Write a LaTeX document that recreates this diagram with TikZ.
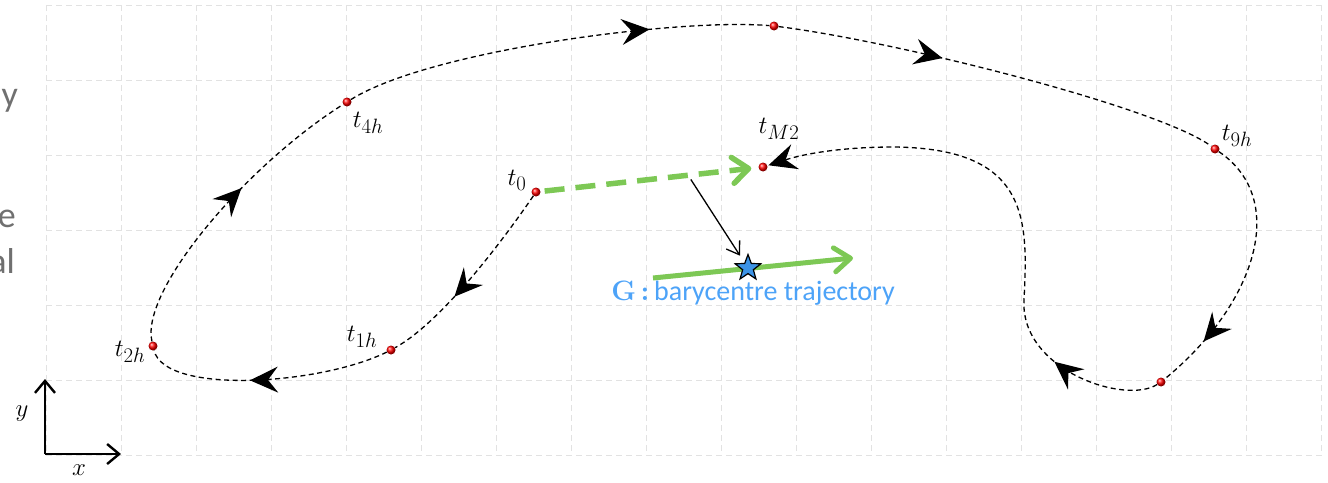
\documentclass[tikz,border=0pt]{standalone}
\usepackage{fontspec}
\newfontfamily\notefont{Carlito}
\usetikzlibrary{arrows.meta,decorations.markings,shapes.geometric,calc}

\definecolor{gridgray}{HTML}{E2E2E2}
\definecolor{leafgreen}{HTML}{7DC855}
\definecolor{skyblue}{HTML}{4DA3F8}
\definecolor{starblue}{HTML}{3C93E6}
\definecolor{notegray}{HTML}{707070}

\tikzset{
  gridline/.style={draw=gridgray, line width=0.9pt, dash pattern=on 6pt off 4pt},
  dot/.style={circle, inner sep=0pt, minimum size=9pt, shade, ball color=red},
  trajline/.style={draw, line width=1.3pt, dash pattern=on 5pt off 3.5pt},
  trajtip/.tip={Stealth[length=28pt,width=26pt,inset=10pt]},
  midarrow/.style={postaction={decorate, decoration={markings,
      mark=at position #1 with {\arrow{trajtip}}}}},
  tlabel/.style={font=\fontsize{31}{31}\selectfont, inner sep=0pt},
  axisline/.style={draw, line width=2.4pt, -{Straight Barb[length=12pt,width=20pt]}},
  greendash/.style={draw=leafgreen, line width=5.5pt, dash pattern=on 20pt off 11pt,
      -{Straight Barb[length=16pt,width=26pt,round]}},
  greensolid/.style={draw=leafgreen, line width=5pt,
      -{Straight Barb[length=16pt,width=24pt,round]}},
  pointer/.style={draw, line width=1.3pt, -{Straight Barb[length=12pt,width=16pt]}},
  notetext/.style={font=\notefont\fontsize{36}{36}\selectfont, text=notegray, inner sep=0pt},
}

\begin{document}
\begin{tikzpicture}[x=1pt, y=-1pt]
  \useasboundingbox (0,0) rectangle (1328,482);

  % background grid
  \foreach \i in {0,...,17}
    \draw[gridline] (46+75.02*\i,5) -- (46+75.02*\i,455);
  \foreach \j in {0,...,6}
    \draw[gridline] (46,5+75*\j) -- (1322,5+75*\j);

  % text running in from the left
  \node[notetext, anchor=base east] at (18,106) {y};
  \node[notetext, anchor=base east] at (16,227) {e};
  \node[notetext, anchor=base east] at (15,273) {al};

  % axes
  \coordinate (O) at (45,454);
  \coordinate (ytip) at (45,379);
  \coordinate (xtip) at (121,454);
  \draw[axisline] (O) -- (ytip);
  \draw[axisline] (O) -- (xtip);
  \node[tlabel] (ylab) at (22,414) {$y$};
  \node[tlabel] (xlab) at (79,470) {$x$};

  % sampled positions
  \node[dot] (t0)  at (536,192) {};
  \node[dot] (t1h) at (391,350) {};
  \node[dot] (t2h) at (153,346) {};
  \node[dot] (t4h) at (347,102) {};
  \node[dot] (ttop) at (774,26) {};
  \node[dot] (t9h) at (1215,149) {};
  \node[dot] (tbot) at (1161,382) {};
  \node[dot] (tM2) at (763,167) {};

  \node[tlabel] at (517,180) {$t_0$};
  \node[tlabel] at (362,337) {$t_{1h}$};
  \node[tlabel] at (130,352) {$t_{2h}$};
  \node[tlabel] at (368,123) {$t_{4h}$};
  \node[tlabel] at (779,129) {$t_{M2}$};
  \node[tlabel] at (1237,136) {$t_{9h}$};

  % trajectory
  \draw[trajline, midarrow=0.62] (t0) .. controls (510,230) and (445,320) .. (t1h);
  \draw[trajline, midarrow=0.57] (t1h) .. controls (320,385) and (165,395) .. (t2h);
  \draw[trajline, midarrow=0.58] (t2h) .. controls (140,290) and (247,165) .. (t4h);
  \draw[trajline, midarrow=0.72] (t4h) .. controls (430,50) and (680,18) .. (ttop);
  \draw[trajline, midarrow=0.37] (ttop) .. controls (900,42) and (1160,108) .. (t9h);
  \draw[trajline, midarrow=0.80] (t9h) .. controls (1290,200) and (1255,305) .. (tbot);
  \coordinate (w1) at (1024,300);
  \coordinate (w2) at (893,147);
  \draw[trajline, midarrow=0.2, -trajtip, shorten >=1pt] (tbot)
      .. controls (1125,405) and (1020,370) .. (w1)
      .. controls (1028,220) and (1030,148) .. (w2)
      .. controls (850,147) and (810,152) .. (tM2);

  % displacement and barycentre
  \draw[greendash, shorten <=4pt, shorten >=7pt] (t0) -- (tM2);
  \coordinate (gs) at (653,278);
  \coordinate (ge) at (853,258);
  \draw[greensolid] (gs) -- (ge);
  \node[star, star points=5, star point ratio=2.4, minimum size=27pt, inner sep=0pt,
        draw=black, line width=1.2pt, fill=starblue] (G) at (748,268) {};
  \coordinate (gm) at ($(t0)!0.67!(tM2)$);
  \draw[pointer, shorten <=5pt, shorten >=8pt] (gm) -- (G);

  \node[font=\notefont\fontsize{28}{28}\selectfont, text=skyblue, inner sep=0pt] (Glab) at (753,293)
    {\textbf{\rmfamily G\,:}\,barycentre trajectory};
\end{tikzpicture}
\end{document}
